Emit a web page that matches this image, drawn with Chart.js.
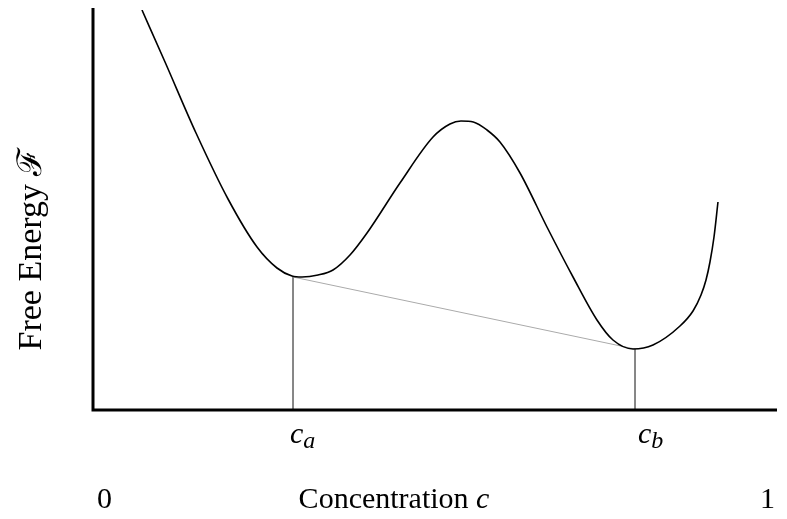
<!DOCTYPE html>
<html>
<head>
<meta charset="utf-8">
<script src="https://cdn.jsdelivr.net/npm/chart.js@4"></script>
<style>
  html, body { margin: 0; padding: 0; background: #fff; }
  #wrap { width: 787px; height: 519px; }
</style>
</head>
<body>
<div id="wrap"><canvas id="chart"></canvas></div>
<script>
// --- data (x: concentration 0..1, y: free energy, arbitrary units) ---
const curveX = [0.0716, 0.1053, 0.1506, 0.1974, 0.2398, 0.2690, 0.2909, 0.3056, 0.3290, 0.3509,
                0.3757, 0.4006, 0.4488, 0.4971, 0.5219, 0.5380, 0.5560, 0.5760, 0.5950, 0.6243,
                0.6637, 0.7018, 0.7368, 0.7602, 0.7895, 0.8187, 0.8582, 0.8772, 0.8889, 0.8962,
                0.9020, 0.9079, 0.9137];
const curveY = [1.0, 0.87, 0.6925, 0.5275, 0.4075, 0.355, 0.335, 0.3325, 0.3375, 0.35,
                0.3875, 0.4425, 0.5675, 0.6825, 0.715, 0.7225, 0.72, 0.70, 0.67, 0.5925,
                0.4575, 0.3325, 0.225, 0.175, 0.1525, 0.1625, 0.21, 0.2475, 0.2875, 0.325,
                0.37, 0.4325, 0.52];
const caPoint = [0.2924, 0.3325];
const cbPoint = [0.7924, 0.1525];
const xEndLabels = ['0', '1'];

const serif = "'Liberation Serif', 'DejaVu Serif', serif";

// axes + text labels
const decorPlugin = {
    id: 'decor',
    afterDraw(chart) {
        const { ctx, chartArea: a, scales } = chart;
        ctx.save();
        ctx.strokeStyle = '#000';
        ctx.lineWidth = 3;
        ctx.beginPath();
        ctx.moveTo(a.left, 8);
        ctx.lineTo(a.left, a.bottom);
        ctx.lineTo(a.right, a.bottom);
        ctx.stroke();

        ctx.fillStyle = '#000';
        ctx.textBaseline = 'alphabetic';

        // c_a and c_b
        const sub = (x, letter) => {
            ctx.font = "italic 30px " + serif;
            ctx.textAlign = 'left';
            ctx.fillText('c', x, 443);
            const w = ctx.measureText('c').width;
            ctx.font = "italic 24px " + serif;
            ctx.fillText(letter, x + w, 448);
        };
        sub(scales.x.getPixelForValue(caPoint[0]) - 3, 'a');
        sub(scales.x.getPixelForValue(cbPoint[0]) + 3, 'b');

        // bottom labels
        ctx.font = "30px " + serif;
        ctx.textAlign = 'left';
        ctx.fillText(xEndLabels[0], 97, 508);
        ctx.fillText(xEndLabels[1], 760, 508);
        const t1 = 'Concentration ';
        const w1 = ctx.measureText(t1).width;
        ctx.font = "italic 30px " + serif;
        const w2 = ctx.measureText('c').width;
        const sx = 394 - (w1 + w2) / 2;
        ctx.font = "30px " + serif;
        ctx.fillText(t1, sx, 508);
        ctx.font = "italic 30px " + serif;
        ctx.fillText('c', sx + w1, 508);

        // y label
        ctx.translate(41, 249);
        ctx.rotate(-Math.PI / 2);
        ctx.font = "34px " + serif;
        ctx.textAlign = 'center';
        ctx.fillText('Free Energy \u2131', 0, 0);
        ctx.restore();
    }
};

new Chart(document.getElementById('chart'), {
    type: 'line',
    data: {
        datasets: [
            {
                data: curveX.map((x, i) => ({ x, y: curveY[i] })),
                borderColor: '#000', borderWidth: 1.6,
                cubicInterpolationMode: 'monotone', pointRadius: 0
            },
            {
                data: [{ x: caPoint[0], y: caPoint[1] }, { x: cbPoint[0], y: cbPoint[1] }],
                borderColor: '#aaaaaa', borderWidth: 1, pointRadius: 0
            },
            {
                data: [{ x: caPoint[0], y: caPoint[1] }, { x: caPoint[0], y: 0 }],
                borderColor: '#777', borderWidth: 1, pointRadius: 0
            },
            {
                data: [{ x: cbPoint[0], y: cbPoint[1] }, { x: cbPoint[0], y: 0 }],
                borderColor: '#777', borderWidth: 1, pointRadius: 0
            }
        ]
    },
    options: {
        responsive: true, maintainAspectRatio: false, animation: false,
        layout: { padding: { left: 93, top: 10, right: 10, bottom: 109 } },
        plugins: { legend: { display: false }, tooltip: { enabled: false } },
        scales: {
            x: { type: 'linear', min: 0, max: 1, display: false },
            y: { type: 'linear', min: 0, max: 1, display: false }
        }
    },
    plugins: [decorPlugin]
});
</script>
</body>
</html>
